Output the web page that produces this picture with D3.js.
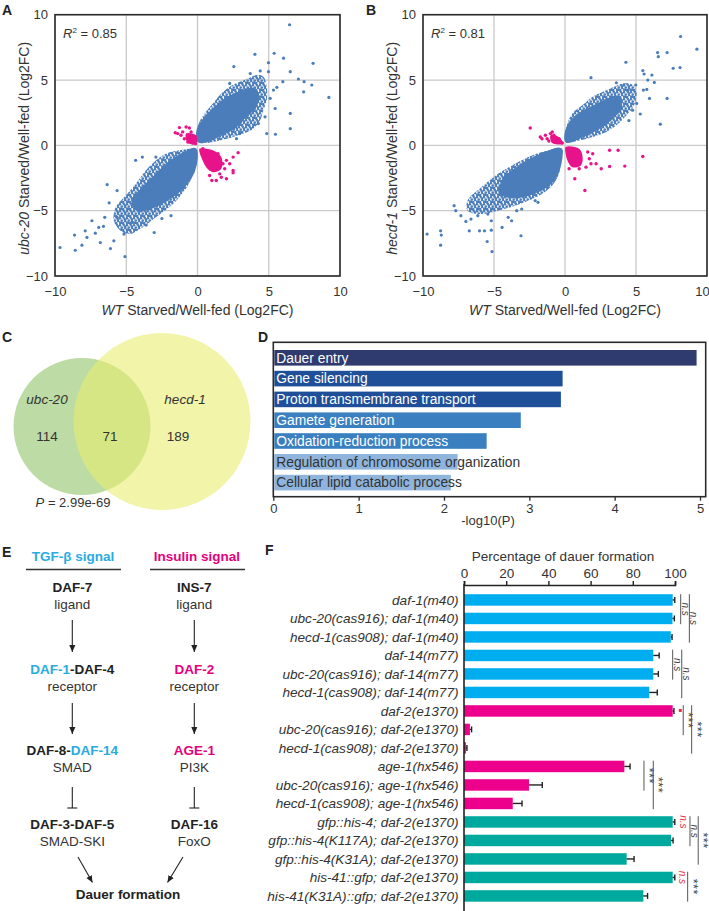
<!DOCTYPE html>
<html>
<head>
<meta charset="utf-8">
<script src="https://cdn.jsdelivr.net/npm/d3@7"></script>
<style>
  body { margin: 0; background: #fff; }
  svg { font-family: "Liberation Sans", Arial, sans-serif; }
</style>
</head>
<body>
<div id="fig"></div>
<script>
// ---------- data ----------
var scatterTicks = [-10, -5, 0, 5, 10];

// panel A: ubc-20 vs WT (dense clouds as outlines, sparse genes as points)
var ubcUpperOuter = [[0.09,0.26],[0.09,1.67],[0.5,2.44],[1.08,3.2],[1.67,3.97],[2.26,4.49],[2.97,4.87],[3.56,5.13],[4.15,5.38],[4.62,5.26],[4.86,4.49],[4.86,3.46],[4.62,2.69],[4.39,1.92],[3.92,1.28],[3.2,0.9],[2.5,0.64],[1.56,0.38],[0.61,0.18]];
var ubcUpperCore = [[0.14,0.38],[0.14,1.28],[0.61,2.05],[1.32,2.82],[2.03,3.46],[2.97,3.97],[3.92,4.23],[4.15,3.72],[3.92,2.95],[3.2,2.18],[2.5,1.41],[1.56,0.9],[0.85,0.51]];
var ubcLowerOuter = [[-0.09,-0.26],[-0.14,-1.15],[-0.33,-2.18],[-0.68,-3.08],[-1.27,-3.97],[-1.98,-4.74],[-2.92,-5.51],[-3.87,-6.28],[-4.81,-6.79],[-5.4,-6.54],[-5.87,-5.77],[-5.75,-4.74],[-5.05,-3.85],[-4.34,-2.95],[-3.63,-1.92],[-2.92,-1.15],[-2.22,-0.64],[-1.27,-0.38],[-0.57,-0.26]];
var ubcLowerCore = [[-0.21,-0.38],[-0.21,-1.41],[-0.57,-2.44],[-1.27,-3.33],[-2.22,-4.1],[-3.16,-4.62],[-4.1,-4.87],[-4.46,-4.36],[-3.87,-3.46],[-3.04,-2.56],[-2.22,-1.67],[-1.27,-0.9],[-0.57,-0.51]];
var ubcOutliers = [[6.46,9.23],[4.03,6.97],[5.38,7.05],[6.04,6.67],[4.98,6.33],[8.11,6.28],[2.55,6.03],[6.51,5.64],[4.98,5.64],[7.08,5.08],[7.48,4.87],[8.02,4.62],[5.99,4.87],[5.57,4.44],[7.45,4.1],[9.22,3.67],[5.33,4.23],[6.51,2.44],[4.74,2.18],[5.45,2.82],[4.86,0.9],[5.47,0.85],[6.51,1.28],[4.27,1.67],[2.26,4.74],[2.74,0.51],[2.97,0.9],[5.1,3.6],[4.4,5.7],[3.7,5.5],
  [-9.65,-7.82],[-8.58,-8.03],[-8.63,-6.87],[-7.88,-6.54],[-7.76,-7.05],[-8.11,-7.64],[-7.41,-5.77],[-6.82,-7.44],[-6.11,-7.9],[-6.34,-3.0],[-5.09,-8.51],[-6.93,-6.28],[-6.51,-5.51],[-5.64,-3.46],[-5.87,-7.31],[-5.16,-6.79],[-5.64,-5.51],[-7.17,-6.72],[-3.04,-6.67],[-1.86,-5.38],[-3.87,-0.9],[-2.92,-0.9],[-4.34,-1.15],[-6.2,-4.4],[-4.6,-5.9],[-3.6,-6.1],[-2.5,-5.6],[-6.6,-6.2]];
var ubcOppCores = [[[-0.8,0.9],[-0.09,0.77],[-0.09,0.13],[-0.68,0.18]],
  [[0.14,-0.26],[1.08,-0.38],[1.67,-0.9],[1.67,-1.79],[1.08,-2.05],[0.61,-1.67],[0.26,-0.9],[0.14,-0.51]]];
var ubcOppPoints = [[-1.56,0.97],[-1.27,1.36],[-1.16,0.77],[-0.8,1.41],[-0.57,1.33],[-0.45,1.03],[-0.38,0.64],[-0.68,0.64],[-0.21,0.38],[-0.52,0.38],[-0.33,0.18],[-0.92,0.51],[-0.14,0.13],[-1.39,0.9],[-1.04,1.03],[-0.45,0.26],[-0.68,0.26],
  [2.85,-0.56],[2.5,-0.9],[2.26,-1.41],[2.03,-1.15],[2.5,-1.92],[2.5,-2.1],[2.03,-2.56],[1.67,-2.44],[1.32,-2.69],[1.01,-2.69],[0.85,-2.31],[1.56,-2.18],[1.91,-1.79],[1.79,-1.41],[0.38,-0.26],[0.61,-0.9],[1.44,-0.64]];

// panel B: hecd-1 vs WT
var hecdUpperOuter = [[0.05,0.26],[0.1,1.41],[0.52,2.44],[1.24,3.08],[1.95,3.72],[2.67,4.1],[3.38,4.44],[4.1,4.74],[4.81,4.62],[5.05,3.97],[4.81,2.95],[4.33,2.31],[3.62,1.54],[2.9,1.03],[1.95,0.64],[1.0,0.38]];
var hecdUpperCore = [[0.17,0.38],[0.17,1.03],[0.52,1.79],[1.24,2.44],[2.19,2.95],[3.14,3.46],[3.62,3.59],[3.86,2.95],[3.38,2.31],[2.67,1.67],[1.71,1.03],[0.76,0.59]];
var hecdLowerOuter = [[-0.19,-0.26],[-0.31,-1.15],[-0.43,-2.18],[-0.9,-3.08],[-1.62,-3.72],[-2.57,-4.23],[-3.52,-4.62],[-4.71,-5.0],[-5.9,-5.26],[-6.86,-5.0],[-6.86,-4.23],[-5.9,-3.21],[-4.71,-2.18],[-3.52,-1.41],[-2.33,-0.77],[-1.14,-0.38]];
var hecdLowerCore = [[-0.38,-0.38],[-0.43,-1.41],[-0.79,-2.44],[-1.38,-3.08],[-2.33,-3.59],[-3.52,-3.85],[-4.48,-3.59],[-4.24,-2.69],[-3.29,-1.79],[-2.1,-1.03],[-1.14,-0.59]];
var hecdOutliers = [[8.14,8.33],[9.29,7.36],[4.29,6.36],[6.52,7.1],[7.19,7.1],[6.57,6.79],[7.62,5.9],[8.1,5.95],[1.83,5.18],[5.48,5.72],[5.57,5.46],[6.12,5.38],[5.83,5.0],[6.29,4.82],[4.98,4.62],[5.52,4.23],[5.76,4.28],[5.95,3.59],[7.19,3.59],[6.71,1.62],[4.76,2.69],[5.05,3.21],[4.14,4.62],[3.62,4.79],[4.45,4.23],[5.3,2.4],[4.5,1.9],
  [-9.71,-6.79],[-8.76,-6.54],[-8.71,-6.87],[-8.76,-7.64],[-5.14,-8.13],[-5.48,-7.36],[-5.19,-6.49],[-5.67,-6.54],[-3.1,-6.92],[-4.43,-6.28],[-6.74,-6.54],[-6.02,-6.54],[-7.81,-4.62],[-7.69,-5.0],[-7.33,-5.38],[-6.98,-5.82],[-6.62,-5.64],[-6.14,-5.38],[-5.43,-5.26],[-4.0,-5.51],[-3.76,-5.77],[-3.4,-5.0],[-3.05,-4.87],[-2.1,-4.23],[-1.9,-4.36],[-5.19,-5.77]];
var hecdOppCores = [[[-1.02,0.77],[-0.43,0.64],[-0.14,0.13],[-0.9,0.18]],
  [[0.05,-0.13],[1.0,-0.26],[1.24,-0.9],[1.12,-1.54],[0.52,-1.67],[0.17,-1.15],[0.05,-0.64]]];
var hecdOppPoints = [[-2.45,1.33],[-1.74,0.64],[-1.62,0.51],[-1.38,0.77],[-1.26,0.51],[-1.02,0.9],[-0.9,1.03],[-0.79,0.77],[-0.67,0.64],[-0.55,0.38],[-0.43,0.51],[-0.31,0.26],[-0.86,0.33],[-1.14,0.33],[-0.67,0.26],[-0.19,0.18],
  [3.14,-0.38],[3.74,-0.38],[5.48,-0.85],[3.14,-1.62],[4.21,-1.59],[2.55,-1.79],[2.19,-1.41],[1.71,-1.03],[1.95,-0.64],[1.48,-1.67],[0.69,-2.56],[1.4,-3.46],[1.6,-0.51],[1.83,-1.41],[1.0,-1.79],[0.29,-1.79]];

// panel C: Venn counts
var vennNames = ["ubc-20", "hecd-1"];
var vennCounts = [114, 71, 189];
var vennP = "2.99e-69";

// panel D: GO enrichment
var goTerms = ["Dauer entry", "Gene silencing", "Proton transmembrane transport", "Gamete generation", "Oxidation-reduction process", "Regulation of chromosome organization", "Cellular lipid catabolic process"];
var goValues = [4.96, 3.39, 3.37, 2.90, 2.50, 2.16, 2.08];
var goTicks = [0, 1, 2, 3, 4, 5];

// panel F: dauer formation
var fLabels = ["daf-1(m40)", "ubc-20(cas916); daf-1(m40)", "hecd-1(cas908); daf-1(m40)",
  "daf-14(m77)", "ubc-20(cas916); daf-14(m77)", "hecd-1(cas908); daf-14(m77)",
  "daf-2(e1370)", "ubc-20(cas916); daf-2(e1370)", "hecd-1(cas908); daf-2(e1370)",
  "age-1(hx546)", "ubc-20(cas916); age-1(hx546)", "hecd-1(cas908); age-1(hx546)",
  "gfp::his-4; daf-2(e1370)", "gfp::his-4(K117A); daf-2(e1370)", "gfp::his-4(K31A); daf-2(e1370)",
  "his-41::gfp; daf-2(e1370)", "his-41(K31A)::gfp; daf-2(e1370)"];
var fValues = [98.9, 98.8, 98.0, 89.7, 89.7, 87.8, 98.9, 2.8, 0.9, 76.0, 30.8, 23.1, 98.9, 98.1, 77.1, 98.9, 85.0];
var fErrors = [1.0, 0.9, 0.6, 2.8, 2.4, 3.8, 0.6, 0.8, 0.5, 2.7, 6.3, 4.4, 1.0, 1.0, 3.5, 1.0, 2.0];
var fPathway = ["tgf","tgf","tgf","tgf","tgf","tgf","ins","ins","ins","ins","ins","ins","his","his","his","his","his"];
var fTicks = [0, 20, 40, 60, 80, 100];
var fBrackets = [
  {from: 0, to: 1, text: "n.s"}, {from: 0, to: 2, text: "n.s"},
  {from: 3, to: 4, text: "n.s"}, {from: 3, to: 5, text: "n.s"},
  {from: 6, to: 7, text: "***"}, {from: 6, to: 8, text: "***"},
  {from: 9, to: 10, text: "***"}, {from: 9, to: 11, text: "***"},
  {from: 12, to: 13, text: "n.s"}, {from: 12, to: 14, text: "***"},
  {from: 15, to: 16, text: "***"}];
var fRedNs = [12, 15];

// ---------- layout ----------
var W = 709, H = 911;
var blue = "#4b7dbb", pink = "#e8138a", ink = "#333";
var svg = d3.select("#fig").append("svg").attr("width", W).attr("height", H);
var defs = svg.append("defs");

// speckled texture for the fringe of the dense clouds
var pat = defs.append("pattern").attr("id", "dots").attr("patternUnits", "userSpaceOnUse")
  .attr("width", 7).attr("height", 7);
[[1.0, 1.2], [4.6, 0.6], [2.8, 3.6], [6.2, 4.0], [0.6, 5.6], [4.2, 6.1], [5.8, 2.2], [2.2, 5.9]].forEach(function(c) {
  pat.append("circle").attr("cx", c[0]).attr("cy", c[1]).attr("r", 1.3).attr("fill", blue);
});

function letter(t, x, y) {
  svg.append("text").attr("x", x).attr("y", y).attr("font-size", 14)
    .attr("font-weight", "bold").attr("fill", "#222").text(t);
}

// ---------- A & B scatter ----------
function scatter(box, d, yName, r2) {
  var x = d3.scaleLinear().domain([-10, 10]).range([box.left, box.right]);
  var y = d3.scaleLinear().domain([-10, 10]).range([box.bottom, box.top]);
  var g = svg.append("g");
  var id = "clip" + box.left;
  g.append("clipPath").attr("id", id).append("rect")
    .attr("x", box.left).attr("y", box.top).attr("width", box.right - box.left).attr("height", box.bottom - box.top);

  g.selectAll(".gx").data(scatterTicks).enter().append("line")
    .attr("x1", v => x(v)).attr("x2", v => x(v)).attr("y1", box.top).attr("y2", box.bottom)
    .attr("stroke", "#c9c9c9").attr("stroke-width", 1.3);
  g.selectAll(".gy").data(scatterTicks).enter().append("line")
    .attr("y1", v => y(v)).attr("y2", v => y(v)).attr("x1", box.left).attr("x2", box.right)
    .attr("stroke", "#c9c9c9").attr("stroke-width", 1.3);

  var blob = d3.line().x(p => x(p[0])).y(p => y(p[1])).curve(d3.curveCatmullRomClosed.alpha(0.5));
  var p = g.append("g").attr("clip-path", "url(#" + id + ")");
  [d.upperOuter, d.lowerOuter].forEach(function(c) {
    p.append("path").attr("d", blob(c)).attr("fill", "url(#dots)");
  });
  [d.upperCore, d.lowerCore].forEach(function(c) {
    p.append("path").attr("d", blob(c)).attr("fill", blue).attr("stroke", blue).attr("stroke-width", 5)
      .attr("stroke-linejoin", "round");
  });
  p.selectAll(".o").data(d.outliers).enter().append("circle")
    .attr("cx", v => x(v[0])).attr("cy", v => y(v[1])).attr("r", 1.6).attr("fill", blue);
  d.oppCores.forEach(function(c) {
    p.append("path").attr("d", blob(c)).attr("fill", pink);
  });
  p.selectAll(".m").data(d.oppPoints).enter().append("circle")
    .attr("cx", v => x(v[0])).attr("cy", v => y(v[1])).attr("r", 1.7).attr("fill", pink);

  g.append("rect").attr("x", box.left).attr("y", box.top)
    .attr("width", box.right - box.left).attr("height", box.bottom - box.top)
    .attr("fill", "none").attr("stroke", "#2b2b2b").attr("stroke-width", 1.6);

  var ya = g.append("g").attr("transform", "translate(" + box.left + ",0)")
    .call(d3.axisLeft(y).tickValues(scatterTicks).tickSize(0).tickPadding(7));
  var xa = g.append("g").attr("transform", "translate(0," + box.bottom + ")")
    .call(d3.axisBottom(x).tickValues(scatterTicks).tickSize(0).tickPadding(11));
  [ya, xa].forEach(function(a) {
    a.select(".domain").remove();
    a.selectAll("text").attr("font-size", 13).attr("fill", ink).attr("font-family", "Liberation Sans, Arial, sans-serif");
  });
  if (box.right > W - 10) xa.selectAll("text").filter(v => v === 10).attr("dx", -5);

  g.append("text").attr("x", box.left + 8).attr("y", box.top + 23).attr("font-size", 13).attr("fill", ink)
    .html('<tspan font-style="italic">R</tspan><tspan dy="-5" font-size="8">2</tspan><tspan dy="5"> = ' + r2 + '</tspan>');

  var yt = g.append("text").attr("transform", "translate(" + (box.left - 26) + "," + ((box.top + box.bottom) / 2 + 3) + ") rotate(-90)")
    .attr("text-anchor", "middle").attr("font-size", 14).attr("fill", ink);
  yt.append("tspan").attr("font-style", "italic").text(yName);
  yt.append("tspan").text(" Starved/Well-fed (Log2FC)");

  var xt = g.append("text").attr("x", (box.left + box.right) / 2).attr("y", box.bottom + 39)
    .attr("text-anchor", "middle").attr("font-size", 14).attr("fill", ink);
  xt.append("tspan").attr("font-style", "italic").text("WT");
  xt.append("tspan").text(" Starved/Well-fed (Log2FC)");
}

scatter({left: 55, right: 340, top: 14.7, bottom: 276},
  {upperOuter: ubcUpperOuter, upperCore: ubcUpperCore, lowerOuter: ubcLowerOuter, lowerCore: ubcLowerCore,
   outliers: ubcOutliers, oppCores: ubcOppCores, oppPoints: ubcOppPoints}, "ubc-20", "0.85");
scatter({left: 423, right: 707, top: 14.7, bottom: 276},
  {upperOuter: hecdUpperOuter, upperCore: hecdUpperCore, lowerOuter: hecdLowerOuter, lowerCore: hecdLowerCore,
   outliers: hecdOutliers, oppCores: hecdOppCores, oppPoints: hecdOppPoints}, "hecd-1", "0.81");
letter("A", 2, 15);
letter("B", 366, 15);

// ---------- C venn ----------
var venn = svg.append("g");
venn.append("circle").attr("cx", 82).attr("cy", 426.5).attr("r", 68.5).attr("fill", "#bddba4");
venn.append("circle").attr("cx", 162).attr("cy", 421.5).attr("r", 88.5).attr("fill", "#e8ec70").attr("fill-opacity", 0.6);
venn.append("text").attr("x", 47).attr("y", 404).attr("text-anchor", "middle").attr("font-size", 13.5)
  .attr("font-style", "italic").attr("fill", ink).text(vennNames[0]);
venn.append("text").attr("x", 185).attr("y", 404).attr("text-anchor", "middle").attr("font-size", 13.5)
  .attr("font-style", "italic").attr("fill", ink).text(vennNames[1]);
venn.selectAll(".n").data(vennCounts).enter().append("text")
  .attr("x", (v, i) => [47, 110, 178][i]).attr("y", 441).attr("text-anchor", "middle")
  .attr("font-size", 13.5).attr("fill", ink).text(v => v);
var pt = venn.append("text").attr("x", 73).attr("y", 507).attr("text-anchor", "middle").attr("font-size", 13).attr("fill", ink);
pt.append("tspan").attr("font-style", "italic").text("P");
pt.append("tspan").text(" = " + vennP);
letter("C", 2, 342);

// ---------- D GO bars ----------
var goColors = ["#2f3b6e", "#1f4f98", "#1f4f98", "#3a80c0", "#3a80c0", "#8fb5dd", "#8fb5dd"];
var goText = ["#fff", "#fff", "#fff", "#fff", "#fff", "#333", "#333"];
var dBox = {left: 273.3, right: 705.7, top: 342.3, bottom: 496.7};
var xd = d3.scaleLinear().domain([0, 5]).range([273.3, 700]);
var yd = d3.scaleBand().domain(goTerms).range([347.4, 493]).paddingInner(0.25).paddingOuter(0.125);
var dg = svg.append("g");
dg.selectAll(".bar").data(goTerms).enter().append("rect")
  .attr("x", xd(0) + 1).attr("y", t => yd(t)).attr("height", yd.bandwidth())
  .attr("width", (t, i) => xd(goValues[i]) - xd(0) - 1).attr("fill", (t, i) => goColors[i]);
dg.selectAll(".lab").data(goTerms).enter().append("text")
  .attr("x", xd(0) + 3).attr("y", t => yd(t) + yd.bandwidth() / 2 + 4.8)
  .attr("font-size", 13.8).attr("fill", (t, i) => goText[i]).text(t => t);
dg.append("rect").attr("x", dBox.left).attr("y", dBox.top).attr("width", dBox.right - dBox.left)
  .attr("height", dBox.bottom - dBox.top).attr("fill", "none").attr("stroke", "#2b2b2b").attr("stroke-width", 1.6);
var dax = dg.append("g").attr("transform", "translate(0," + dBox.bottom + ")")
  .call(d3.axisBottom(xd).tickValues(goTicks).tickFormat(d3.format("d")).tickSize(4).tickPadding(3));
dax.select(".domain").remove();
dax.selectAll("line").attr("stroke", "#2b2b2b").attr("stroke-width", 1.3);
dax.selectAll("text").attr("font-size", 13).attr("fill", ink).attr("font-family", "Liberation Sans, Arial, sans-serif");
dg.append("text").attr("x", 488).attr("y", 525).attr("text-anchor", "middle").attr("font-size", 13).attr("fill", ink).text("-log10(P)");
letter("D", 258, 342);

// ---------- E pathway diagram ----------
var tgfBlue = "#29abe2", insPink = "#e6007e";
var eg = svg.append("g");
defs.append("marker").attr("id", "arr").attr("viewBox", "0 -4 8 8").attr("refX", 8).attr("refY", 0)
  .attr("markerWidth", 7).attr("markerHeight", 7).attr("markerUnits", "userSpaceOnUse").attr("orient", "auto")
  .append("path").attr("d", "M0,-3.5L8,0L0,3.5Z").attr("fill", "#222");

var pathwayHeads = [{t: "TGF-\u03b2 signal", c: tgfBlue, x: 73}, {t: "Insulin signal", c: insPink, x: 197}];
pathwayHeads.forEach(function(h) {
  eg.append("text").attr("x", h.x).attr("y", 561).attr("text-anchor", "middle").attr("font-size", 13.5)
    .attr("font-weight", "bold").attr("fill", h.c).text(h.t);
  eg.append("line").attr("x1", h.x - 47).attr("x2", h.x + 48).attr("y1", 569.5).attr("y2", 569.5)
    .attr("stroke", "#333").attr("stroke-width", 1.5);
});
var tgfNodes = [
  [[{t: "DAF-7"}], "ligand"],
  [[{t: "DAF-1", c: tgfBlue}, {t: "-DAF-4"}], "receptor"],
  [[{t: "DAF-8-"}, {t: "DAF-14", c: tgfBlue}], "SMAD"],
  [[{t: "DAF-3-DAF-5"}], "SMAD-SKI"]];
var insNodes = [
  [[{t: "INS-7"}], "ligand"],
  [[{t: "DAF-2", c: insPink}], "receptor"],
  [[{t: "AGE-1", c: insPink}], "PI3K"],
  [[{t: "DAF-16"}], "FoxO"]];
var nodeY = [592, 674, 755, 829];
[[tgfNodes, 72.3], [insNodes, 194.3]].forEach(function(col) {
  var cx = col[1];
  col[0].forEach(function(n, i) {
    var t = eg.append("text").attr("x", cx).attr("y", nodeY[i]).attr("text-anchor", "middle")
      .attr("font-size", 13.5).attr("font-weight", "bold").attr("fill", "#222");
    n[0].forEach(function(s) { t.append("tspan").attr("fill", s.c || "#222").text(s.t); });
    eg.append("text").attr("x", cx).attr("y", nodeY[i] + 16.5).attr("text-anchor", "middle")
      .attr("font-size", 13.5).attr("fill", ink).text(n[1]);
  });
  [[620, 652], [703, 734]].forEach(function(s) {
    eg.append("line").attr("x1", cx).attr("x2", cx).attr("y1", s[0]).attr("y2", s[1])
      .attr("stroke", "#222").attr("stroke-width", 1.1).attr("marker-end", "url(#arr)");
  });
  eg.append("line").attr("x1", cx).attr("x2", cx).attr("y1", 787).attr("y2", 808).attr("stroke", "#222").attr("stroke-width", 1.1);
  eg.append("line").attr("x1", cx - 5).attr("x2", cx + 5).attr("y1", 808).attr("y2", 808).attr("stroke", "#222").attr("stroke-width", 1.1);
});
eg.append("line").attr("x1", 78).attr("y1", 857).attr("x2", 92.5).attr("y2", 882.5)
  .attr("stroke", "#222").attr("stroke-width", 1.1).attr("marker-end", "url(#arr)");
eg.append("line").attr("x1", 183).attr("y1", 857).attr("x2", 167.5).attr("y2", 882.5)
  .attr("stroke", "#222").attr("stroke-width", 1.1).attr("marker-end", "url(#arr)");
eg.append("text").attr("x", 128).attr("y", 899).attr("text-anchor", "middle").attr("font-size", 13.5)
  .attr("font-weight", "bold").attr("fill", "#222").text("Dauer formation");
letter("E", 2, 557);

// ---------- F dauer formation bars ----------
var pathColor = {tgf: "#00aeef", ins: "#ec008c", his: "#00a99d"};
var xf = d3.scaleLinear().domain([0, 100]).range([464, 675]);
var yf = d3.scaleBand().domain(d3.range(fLabels.length)).range([590.7, 905.2]).paddingInner(0.38).paddingOuter(0.19);
var fg = svg.append("g");
fg.selectAll(".bar").data(fValues).enter().append("rect")
  .attr("x", xf(0)).attr("y", (v, i) => yf(i)).attr("height", yf.bandwidth())
  .attr("width", v => xf(v) - xf(0)).attr("fill", (v, i) => pathColor[fPathway[i]]);
fg.selectAll(".err").data(fValues).enter().append("line")
  .attr("x1", v => xf(v)).attr("x2", (v, i) => xf(v + fErrors[i]))
  .attr("y1", (v, i) => yf(i) + yf.bandwidth() / 2).attr("y2", (v, i) => yf(i) + yf.bandwidth() / 2)
  .attr("stroke", "#222").attr("stroke-width", 1.4);
fg.selectAll(".cap").data(fValues).enter().append("line")
  .attr("x1", (v, i) => xf(v + fErrors[i])).attr("x2", (v, i) => xf(v + fErrors[i]))
  .attr("y1", (v, i) => yf(i) + yf.bandwidth() / 2 - 3).attr("y2", (v, i) => yf(i) + yf.bandwidth() / 2 + 3)
  .attr("stroke", "#222").attr("stroke-width", 1.4);
fg.selectAll(".lab").data(fLabels).enter().append("text")
  .attr("x", 458.5).attr("y", (t, i) => yf(i) + yf.bandwidth() / 2 + 4.8).attr("text-anchor", "end")
  .attr("font-size", 13.6).attr("font-style", "italic").attr("fill", ink).text(t => t);

var fax = fg.append("g").attr("transform", "translate(0,585)")
  .call(d3.axisTop(xf).tickValues(fTicks).tickSize(4).tickPadding(3));
fax.select(".domain").attr("stroke", "#222").attr("stroke-width", 1.6);
fax.selectAll("line").attr("stroke", "#222").attr("stroke-width", 1.4);
fax.selectAll("text").attr("font-size", 13.5).attr("fill", ink).attr("font-family", "Liberation Sans, Arial, sans-serif");
fg.append("line").attr("x1", xf(0)).attr("x2", xf(0)).attr("y1", 584.2).attr("y2", H)
  .attr("stroke", "#222").attr("stroke-width", 1.6);
fg.append("text").attr("x", 563).attr("y", 560.5).attr("text-anchor", "middle").attr("font-size", 13.5)
  .attr("fill", ink).text("Percentage of dauer formation");

// significance brackets (x positions set by eye, in axis units)
var sig = fg.append("g").attr("opacity", 0.999);
var bracketAt = [102.7, 106.8, 98.9, 103.2, 103.9, 107.9, 85.3, 89.7, 107.1, 111.0, 106.0];
fBrackets.forEach(function(b, k) {
  var bx = xf(bracketAt[k]);
  var y0 = yf(b.from), y1 = yf(b.to) + yf.bandwidth();
  var star = b.text === "***";
  sig.append("line").attr("x1", bx).attr("x2", bx).attr("y1", y0).attr("y2", y1).attr("stroke", "#555").attr("stroke-width", 1);
  sig.append("text").attr("transform", "translate(" + (bx + (star ? 5 : 4.5)) + "," + ((y0 + y1) / 2) + ") rotate(90)")
    .attr("text-anchor", "middle").attr("dominant-baseline", "central")
    .attr("font-size", star ? 12.5 : 10).attr("font-style", star ? "normal" : "italic")
    .attr("letter-spacing", star ? 0.5 : 0).attr("fill", "#444").text(b.text);
});
var redAt = [103.9, 103.6];
fRedNs.forEach(function(bi, k) {
  sig.append("text").attr("transform", "translate(" + xf(redAt[k]) + "," + (yf(bi) + yf.bandwidth() / 2) + ") rotate(90)")
    .attr("text-anchor", "middle").attr("dominant-baseline", "central")
    .attr("font-size", 10).attr("font-style", "italic").attr("fill", "#e8323c").text("n.s");
});
sig.append("rect").attr("x", xf(101.8)).attr("y", yf(6) + yf.bandwidth() / 2 - 2).attr("width", 3).attr("height", 3).attr("fill", "#e8323c");
letter("F", 265, 555);
</script>
</body>
</html>
